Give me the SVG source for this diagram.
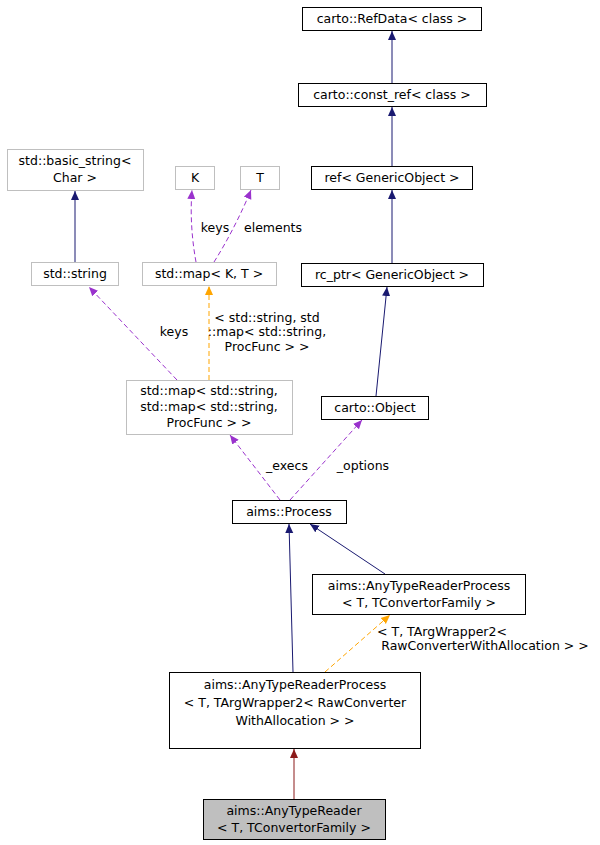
<svg xmlns="http://www.w3.org/2000/svg" width="600" height="845" viewBox="0 0 600 845">
<style>
text{font-family:"DejaVu Sans",sans-serif;font-size:12.5px;text-anchor:middle;fill:#000}
.n rect{fill:#fff;stroke:#000;stroke-width:1}
.g rect{fill:#fff;stroke:#bfbfbf;stroke-width:1}
.e{fill:none;stroke-width:1}
.b{stroke:#191970}
.p{stroke:#9a32cd;stroke-dasharray:5,3}
.o{stroke:#ffa500;stroke-dasharray:5,3}
.r{stroke:#8b1a1a}
</style>
<defs>
<marker id="ab" markerWidth="10" markerHeight="10" refX="9" refY="5" orient="auto" markerUnits="userSpaceOnUse"><path d="M0,1 L9,5 L0,9Z" fill="#191970"/></marker>
<marker id="ap" markerWidth="10" markerHeight="10" refX="9" refY="5" orient="auto" markerUnits="userSpaceOnUse"><path d="M0,1 L9,5 L0,9Z" fill="#9a32cd"/></marker>
<marker id="ao" markerWidth="10" markerHeight="10" refX="9" refY="5" orient="auto" markerUnits="userSpaceOnUse"><path d="M0,1 L9,5 L0,9Z" fill="#ffa500"/></marker>
<marker id="ar" markerWidth="10" markerHeight="10" refX="9" refY="5" orient="auto" markerUnits="userSpaceOnUse"><path d="M0,1 L9,5 L0,9Z" fill="#8b1a1a"/></marker>
</defs>
<rect width="600" height="845" fill="#fff"/>
<g id="connectors">
<path class="e b" d="M392,83 L392,31" marker-end="url(#ab)"/>
<path class="e b" d="M392,166 L392,107" marker-end="url(#ab)"/>
<path class="e b" d="M392,263 L392,190" marker-end="url(#ab)"/>
<path class="e b" d="M376,396 L387,287" marker-end="url(#ab)"/>
<path class="e b" d="M75,262 L75,191" marker-end="url(#ab)"/>
<path class="e p" d="M196,262 C192,240 190,215 192,190" marker-end="url(#ap)"/>
<text x="215" y="232">keys</text>
<path class="e p" d="M214,262 C228,240 242,212 251,190" marker-end="url(#ap)"/>
<text x="273" y="232">elements</text>
<path class="e p" d="M177,380 L89,287" marker-end="url(#ap)"/>
<text x="174" y="336">keys</text>
<path class="e o" d="M209,380 L209,286" marker-end="url(#ao)"/>
<text x="267" y="322">&lt; std::string, std</text>
<text x="267" y="336">::map&lt; std::string,</text>
<text x="267" y="351">ProcFunc &gt; &gt;</text>
<path class="e p" d="M280,500 L230,435" marker-end="url(#ap)"/>
<text x="287" y="470">_execs</text>
<path class="e p" d="M290,500 L362,420" marker-end="url(#ap)"/>
<text x="363" y="470">_options</text>
<path class="e b" d="M385,574 L310,524" marker-end="url(#ab)"/>
<path class="e b" d="M293,672 L289,524" marker-end="url(#ab)"/>
<path class="e o" d="M325,672 L390,615" marker-end="url(#ao)"/>
<text x="442" y="636">&lt; T, TArgWrapper2&lt;</text>
<text x="485" y="650">RawConverterWithAllocation &gt; &gt;</text>
<path class="e r" d="M294,799 L294,749" marker-end="url(#ar)"/>
</g>
<g id="refdata" class="n"><rect x="302.5" y="7.5" width="179" height="23"/><text x="392" y="23">carto::RefData&lt; class &gt;</text></g>
<g id="constref" class="n"><rect x="298.5" y="83.5" width="188" height="23"/><text x="392" y="99">carto::const_ref&lt; class &gt;</text></g>
<g id="ref" class="n"><rect x="311.5" y="166.5" width="161" height="23"/><text x="392" y="182">ref&lt; GenericObject &gt;</text></g>
<g id="rcptr" class="n"><rect x="301.5" y="263.5" width="182" height="23"/><text x="392" y="279">rc_ptr&lt; GenericObject &gt;</text></g>
<g id="object" class="n"><rect x="321.5" y="396.5" width="107" height="23"/><text x="375" y="412">carto::Object</text></g>
<g id="basicstring" class="g"><rect x="7.5" y="149.5" width="136" height="41"/><text x="75" y="165">std::basic_string&lt;</text><text x="75" y="182">Char &gt;</text></g>
<g id="K" class="g"><rect x="175.5" y="166.5" width="39" height="23"/><text x="195" y="182">K</text></g>
<g id="T" class="g"><rect x="240.5" y="166.5" width="39" height="23"/><text x="260" y="182">T</text></g>
<g id="mapKT" class="g"><rect x="142.5" y="262.5" width="134" height="23"/><text x="209" y="278">std::map&lt; K, T &gt;</text></g>
<g id="string" class="g"><rect x="31.5" y="262.5" width="87" height="23"/><text x="75" y="278">std::string</text></g>
<g id="bigmap" class="g"><rect x="126.5" y="380.5" width="166" height="54"/><text x="209" y="395">std::map&lt; std::string,</text><text x="209" y="411">std::map&lt; std::string,</text><text x="209" y="427">ProcFunc &gt; &gt;</text></g>
<g id="process" class="n"><rect x="232.5" y="500.5" width="114" height="23"/><text x="289" y="516">aims::Process</text></g>
<g id="atrp" class="n"><rect x="312.5" y="574.5" width="213" height="40"/><text x="419" y="590">aims::AnyTypeReaderProcess</text><text x="419" y="607">&lt; T, TConvertorFamily &gt;</text></g>
<g id="atrp2" class="n"><rect x="169.5" y="672.5" width="251" height="76"/><text x="295" y="689">aims::AnyTypeReaderProcess</text><text x="295" y="707">&lt; T, TArgWrapper2&lt; RawConverter</text><text x="295" y="725">WithAllocation &gt; &gt;</text></g>
<g id="atr"><rect x="203.5" y="799.5" width="182" height="40" fill="#bfbfbf" stroke="#000"/><text x="294" y="815">aims::AnyTypeReader</text><text x="294" y="832">&lt; T, TConvertorFamily &gt;</text></g>
</svg>
